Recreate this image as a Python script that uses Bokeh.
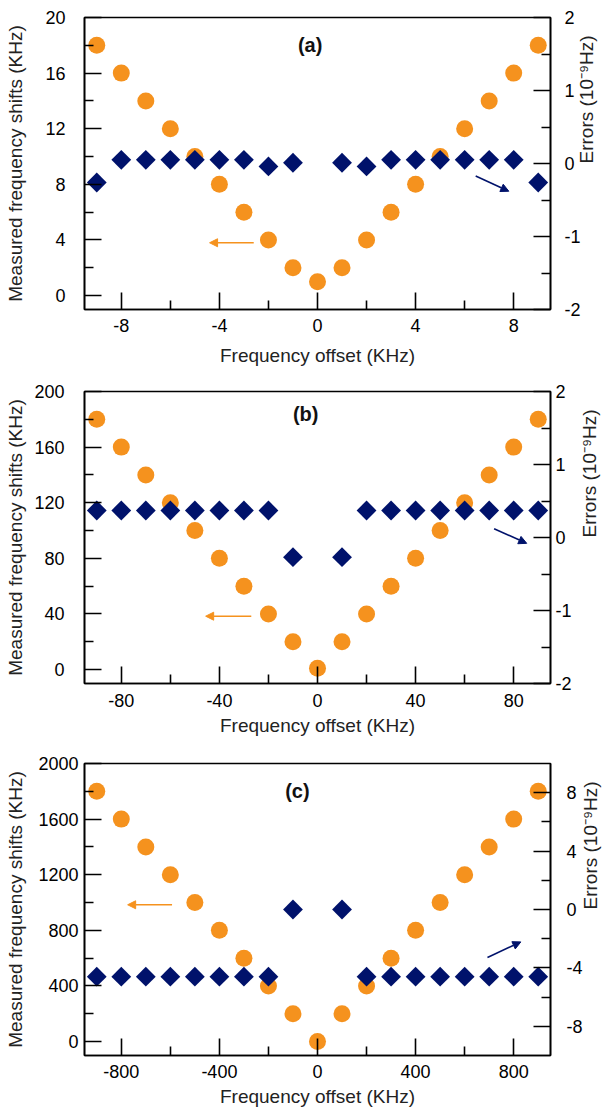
import numpy as np
from bokeh.plotting import figure
from bokeh.layouts import column
from bokeh.models import Range1d, LinearAxis, FixedTicker, Arrow, NormalHead, PrintfTickFormatter
from bokeh.core.properties import value
from bokeh.embed import file_html
from bokeh.resources import INLINE

# ---------------- data ----------------
# panel (a)
offset_a = [-9, -8, -7, -6, -5, -4, -3, -2, -1, 0, 1, 2, 3, 4, 5, 6, 7, 8, 9]
shift_a = [18, 16, 14, 12, 10, 8, 6, 4, 2, 1, 2, 4, 6, 8, 10, 12, 14, 16, 18]
err_offset_a = [-9, -8, -7, -6, -5, -4, -3, -2, -1, 1, 2, 3, 4, 5, 6, 7, 8, 9]
err_a = [-0.26, 0.05, 0.05, 0.05, 0.05, 0.05, 0.05, -0.04, 0.01,
         0.01, -0.04, 0.05, 0.05, 0.05, 0.05, 0.05, 0.05, -0.26]

# panel (b)
offset_b = [-90, -80, -70, -60, -50, -40, -30, -20, -10, 0, 10, 20, 30, 40, 50, 60, 70, 80, 90]
shift_b = [180, 160, 140, 120, 100, 80, 60, 40, 20, 1, 20, 40, 60, 80, 100, 120, 140, 160, 180]
err_offset_b = [-90, -80, -70, -60, -50, -40, -30, -20, -10, 10, 20, 30, 40, 50, 60, 70, 80, 90]
err_b = [0.37, 0.37, 0.37, 0.37, 0.37, 0.37, 0.37, 0.37, -0.27,
         -0.27, 0.37, 0.37, 0.37, 0.37, 0.37, 0.37, 0.37, 0.37]

# panel (c)
offset_c = [-900, -800, -700, -600, -500, -400, -300, -200, -100, 0,
            100, 200, 300, 400, 500, 600, 700, 800, 900]
shift_c = [1800, 1600, 1400, 1200, 1000, 800, 600, 400, 200, 0,
           200, 400, 600, 800, 1000, 1200, 1400, 1600, 1800]
err_offset_c = [-900, -800, -700, -600, -500, -400, -300, -200, -100,
                100, 200, 300, 400, 500, 600, 700, 800, 900]
err_c = [-4.6, -4.6, -4.6, -4.6, -4.6, -4.6, -4.6, -4.6, 0.0,
         0.0, -4.6, -4.6, -4.6, -4.6, -4.6, -4.6, -4.6, -4.6]

panel_labels = ["(a)", "(b)", "(c)"]
x_label = "Frequency offset (KHz)"
y_label = "Measured frequency shifts (KHz)"
r_label = "Errors (10\u207b\u2079Hz)"

x_major = {"a": [-8, -4, 0, 4, 8], "b": [-80, -40, 0, 40, 80], "c": [-800, -400, 0, 400, 800]}
x_minor = {"a": [-6, -2, 2, 6], "b": [-60, -20, 20, 60], "c": [-600, -200, 200, 600]}
y_major = {"a": [0, 4, 8, 12, 16, 20], "b": [0, 40, 80, 120, 160, 200],
           "c": [0, 400, 800, 1200, 1600, 2000]}
y_minor = {"a": [2, 6, 10, 14, 18], "b": [20, 60, 100, 140, 180],
           "c": [200, 600, 1000, 1400, 1800]}
r_major = {"a": [-2, -1, 0, 1, 2], "b": [-2, -1, 0, 1, 2], "c": [-8, -4, 0, 4, 8]}
r_minor = {"a": [-1.5, -0.5, 0.5, 1.5], "b": [-1.5, -0.5, 0.5, 1.5], "c": [-6, -2, 2, 6]}

ORANGE = "#F5921E"
NAVY = "#00126B"
FONT = "Liberation Sans"


def style_axis(ax, major, minor, standoff, label_standoff):
    ax.ticker = FixedTicker(ticks=major, minor_ticks=minor)
    ax.formatter = PrintfTickFormatter(format="%d")
    ax.major_tick_in = 17
    ax.major_tick_out = 0
    ax.minor_tick_in = 9
    ax.minor_tick_out = 0
    ax.major_tick_line_color = "black"
    ax.minor_tick_line_color = "black"
    ax.major_tick_line_width = 1.6
    ax.minor_tick_line_width = 1.6
    ax.axis_line_color = "black"
    ax.axis_line_width = 1.6
    ax.major_label_text_font = FONT
    ax.major_label_text_font_size = "18px"
    ax.major_label_text_color = "black"
    ax.major_label_standoff = standoff
    ax.axis_label_text_font = FONT
    ax.axis_label_text_font_size = "19px"
    ax.axis_label_text_font_style = "normal"
    ax.axis_label_text_color = "#222222"
    ax.axis_label_standoff = label_standoff


def make_panel(key, xs, ys, exs, eys, xr, yr, rr, label, label_pos,
               oarrow, barrow, borders, height, stand):
    p = figure(width=614, height=height,
               x_range=Range1d(*xr), y_range=Range1d(*yr),
               output_backend="svg", toolbar_location=None,
               min_border_top=borders[0], min_border_right=borders[1],
               min_border_bottom=borders[2], min_border_left=borders[3])
    p.extra_y_ranges = {"err": Range1d(*rr)}
    p.xgrid.visible = False
    p.ygrid.visible = False
    p.outline_line_color = "black"
    p.outline_line_width = 1.6
    p.background_fill_color = "white"
    p.border_fill_color = "white"

    style_axis(p.xaxis[0], x_major[key], x_minor[key], stand[2], stand[3])
    p.xaxis[0].axis_label = x_label
    style_axis(p.yaxis[0], y_major[key], y_minor[key], stand[0], stand[1])
    p.yaxis[0].axis_label = y_label

    rax = LinearAxis(y_range_name="err", axis_label=r_label)
    style_axis(rax, r_major[key], r_minor[key], stand[4], stand[5])
    try:
        rax.axis_label_orientation = np.pi / 2
    except Exception:
        pass
    p.add_layout(rax, "right")

    p.scatter(xs, ys, size=17, fill_color=ORANGE, line_color=None)
    p.scatter(exs, eys, marker="square", angle=np.pi / 4, size=14,
              fill_color=NAVY, line_color=None, y_range_name="err")

    p.text(x=[label_pos[0]], y=[label_pos[1]], text=[label],
           text_font=value(FONT), text_font_style="bold",
           text_font_size="20px", text_align="center",
           text_baseline="middle", text_color="#111111")

    p.add_layout(Arrow(end=NormalHead(size=8, fill_color=ORANGE, line_color=ORANGE),
                       x_start=oarrow[0], y_start=oarrow[1],
                       x_end=oarrow[2], y_end=oarrow[3],
                       line_color=ORANGE, line_width=1.6))
    p.add_layout(Arrow(end=NormalHead(size=8, fill_color=NAVY, line_color=NAVY),
                       x_start=barrow[0], y_start=barrow[1],
                       x_end=barrow[2], y_end=barrow[3],
                       line_color=NAVY, line_width=1.6, y_range_name="err"))
    return p


# borders: (top, right, bottom, left); stand: (left tick, left label, bottom tick,
# bottom label, right tick, right label)
pa = make_panel("a", offset_a, shift_a, err_offset_a, err_a,
                (-9.5, 9.5), (-1, 20), (-2, 2), panel_labels[0], (-0.3, 18),
                (-2.6, 3.8, -4.4, 3.8), (6.45, -0.17, 7.8, -0.38),
                (17, 63, 63, 84), 372, (19, 16, 9, 10, 14, 3))
pb = make_panel("b", offset_b, shift_b, err_offset_b, err_b,
                (-95, 95), (-10, 200), (-2, 2), panel_labels[1], (-4.8, 184),
                (-27, 38.4, -45.6, 38.4), (72, 0.12, 85.3, -0.08),
                (19, 63, 62, 84), 373, (20, 5, 10, 5, 5, 15))
pc = make_panel("c", offset_c, shift_c, err_offset_c, err_c,
                (-950, 950), (-100, 2000), (-10, 10), panel_labels[2], (-82, 1800),
                (-593, 984, -774, 984), (693, -3.29, 829, -2.22),
                (18, 63, 57, 84), 367, (6, 9, 9, 5, 16, 5))

layout = column(pa, pb, pc, spacing=0)

open("out.html", "w").write(file_html(layout, INLINE))
